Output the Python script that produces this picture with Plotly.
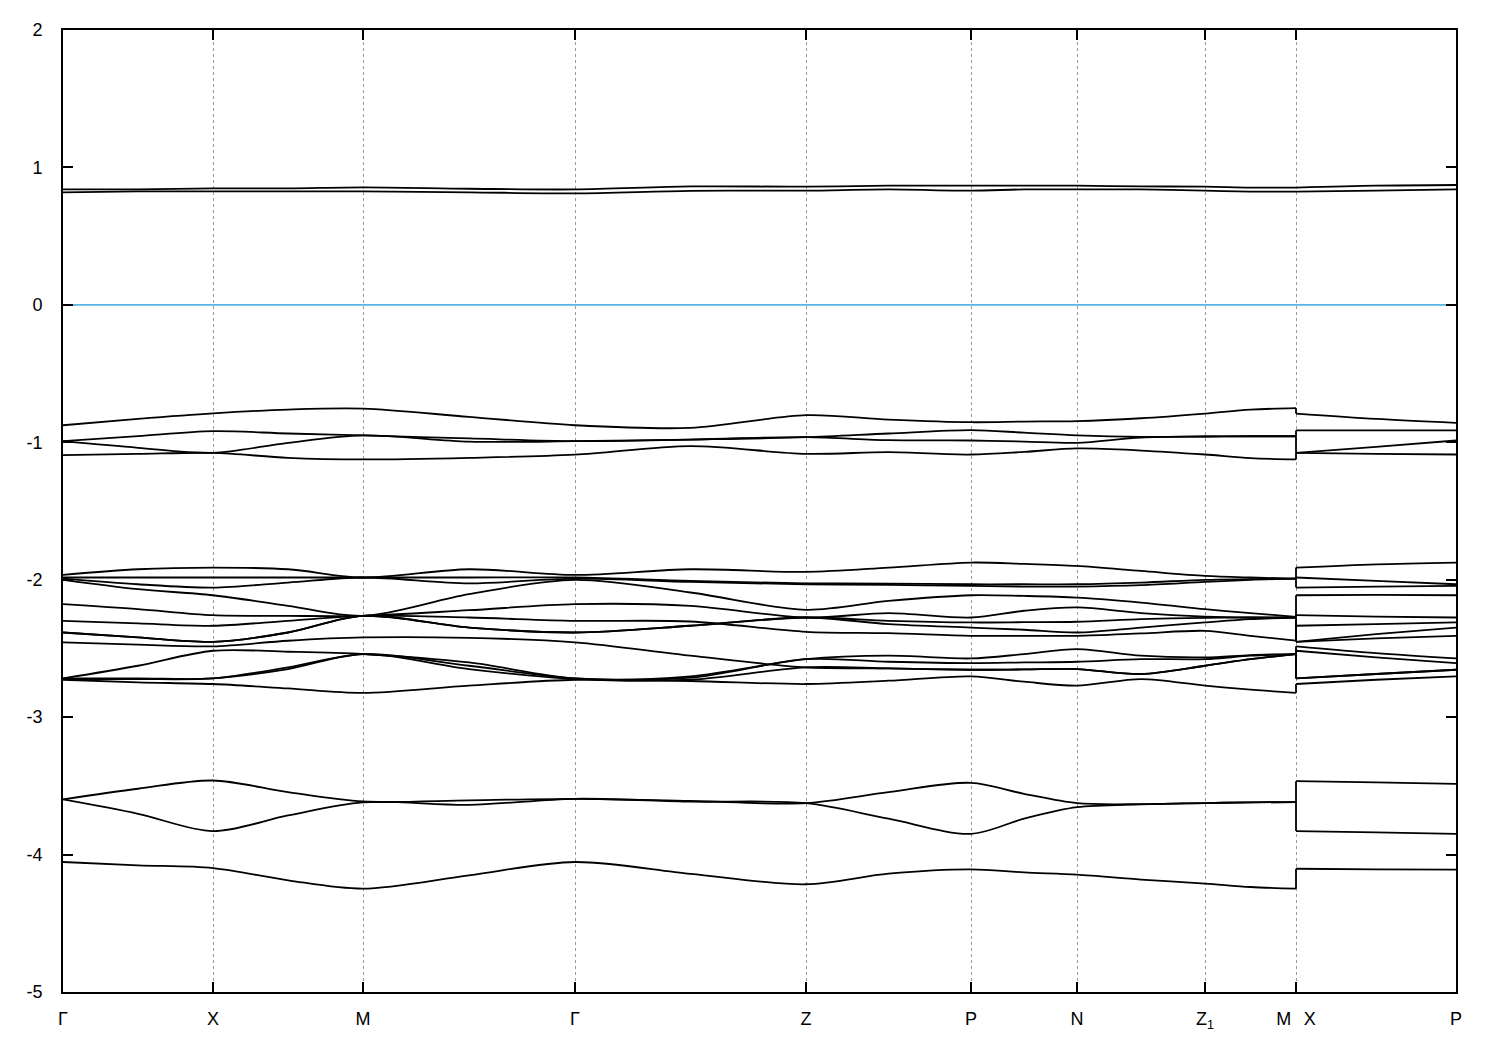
import plotly.graph_objects as go

# High-symmetry path (k distance, arbitrary units) and labels
hs_k = [0.0, 0.150, 0.300, 0.512, 0.743, 0.908, 1.014, 1.142, 1.233, 1.233, 1.393]
hs_labels = ["Γ", "X", "M", "Γ", "Z", "P", "N", "Z<sub>1</sub>", "M\u2002\u2009X", "P"]

# Energies (eV) at nodes: each segment start, midpoint, ... ; nodes 0-16 = Γ..M, 17-19 = X..P
T1 = [0.840, 0.840, 0.848, 0.848, 0.855, 0.845, 0.840, 0.862, 0.860, 0.867, 0.867, 0.867, 0.867, 0.862, 0.860, 0.853, 0.853, 0.853, 0.867, 0.872]
T2 = [0.819, 0.826, 0.826, 0.826, 0.826, 0.819, 0.811, 0.830, 0.831, 0.840, 0.831, 0.840, 0.840, 0.840, 0.831, 0.824, 0.824, 0.824, 0.831, 0.840]

A = [-0.876, -0.830, -0.790, -0.762, -0.755, -0.815, -0.876, -0.895, -0.803, -0.835, -0.854, -0.849, -0.846, -0.825, -0.791, -0.762, -0.752, -0.791, -0.830, -0.859]
B = [-0.992, -0.955, -0.919, -0.936, -0.950, -0.972, -0.992, -0.980, -0.963, -0.936, -0.912, -0.930, -0.949, -0.960, -0.958, -0.956, -0.956, -0.914, -0.914, -0.914]
C = [-0.992, -1.040, -1.077, -1.004, -0.950, -0.995, -0.992, -0.980, -0.963, -0.985, -0.987, -0.995, -1.004, -0.965, -0.958, -0.956, -0.956, -1.077, -1.033, -0.987]
D = [-1.094, -1.085, -1.077, -1.113, -1.125, -1.113, -1.090, -1.028, -1.084, -1.072, -1.089, -1.070, -1.045, -1.060, -1.089, -1.115, -1.125, -1.077, -1.085, -1.089]

da = [-1.965, -1.924, -1.912, -1.924, -1.984, -1.924, -1.965, -1.924, -1.943, -1.912, -1.875, -1.885, -1.900, -1.936, -1.972, -1.984, -1.992, -1.912, -1.888, -1.875]
db = [-1.984, -1.984, -1.984, -1.984, -1.984, -1.984, -1.984, -2.009, -2.026, -2.028, -2.033, -2.033, -2.033, -2.021, -2.001, -1.996, -1.992, -1.984, -2.009, -2.033]
dc = [-1.992, -2.033, -2.057, -2.021, -1.984, -2.026, -1.992, -2.016, -2.033, -2.038, -2.045, -2.050, -2.050, -2.040, -2.016, -2.001, -1.992, -2.057, -2.050, -2.045]
dd = [-2.001, -2.069, -2.113, -2.190, -2.263, -2.105, -2.001, -2.093, -2.219, -2.154, -2.113, -2.118, -2.130, -2.166, -2.214, -2.243, -2.270, -2.113, -2.110, -2.113]
de = [-2.178, -2.214, -2.258, -2.263, -2.263, -2.222, -2.178, -2.190, -2.275, -2.243, -2.275, -2.226, -2.202, -2.243, -2.268, -2.275, -2.275, -2.258, -2.268, -2.275]
df = [-2.299, -2.318, -2.335, -2.299, -2.263, -2.275, -2.299, -2.304, -2.379, -2.389, -2.408, -2.408, -2.408, -2.391, -2.372, -2.408, -2.444, -2.335, -2.323, -2.311]
dg = [-2.384, -2.420, -2.452, -2.384, -2.263, -2.348, -2.384, -2.335, -2.275, -2.299, -2.311, -2.309, -2.306, -2.287, -2.277, -2.275, -2.275, -2.452, -2.396, -2.348]
dn = [-2.384, -2.420, -2.452, -2.384, -2.263, -2.348, -2.384, -2.335, -2.275, -2.323, -2.348, -2.364, -2.384, -2.348, -2.311, -2.287, -2.275, -2.452, -2.427, -2.408]
dh = [-2.456, -2.473, -2.485, -2.444, -2.420, -2.423, -2.456, -2.553, -2.638, -2.645, -2.655, -2.653, -2.650, -2.686, -2.626, -2.578, -2.541, -2.485, -2.534, -2.573]
di = [-2.718, -2.626, -2.517, -2.524, -2.541, -2.602, -2.718, -2.703, -2.578, -2.553, -2.573, -2.541, -2.505, -2.553, -2.565, -2.548, -2.541, -2.517, -2.565, -2.607]
dj = [-2.718, -2.718, -2.718, -2.638, -2.541, -2.626, -2.718, -2.713, -2.578, -2.597, -2.607, -2.602, -2.597, -2.578, -2.578, -2.553, -2.541, -2.718, -2.686, -2.655]
dk = [-2.723, -2.723, -2.718, -2.650, -2.541, -2.650, -2.723, -2.728, -2.638, -2.645, -2.655, -2.653, -2.650, -2.686, -2.626, -2.578, -2.541, -2.718, -2.686, -2.655]
dl = [-2.728, -2.747, -2.759, -2.791, -2.824, -2.771, -2.728, -2.737, -2.759, -2.735, -2.703, -2.742, -2.771, -2.723, -2.771, -2.800, -2.824, -2.759, -2.728, -2.703]

S1 = [-3.599, -3.521, -3.461, -3.546, -3.614, -3.606, -3.594, -3.610, -3.626, -3.546, -3.478, -3.558, -3.626, -3.633, -3.625, -3.620, -3.618, -3.466, -3.475, -3.485]
S2 = [-3.599, -3.703, -3.829, -3.715, -3.620, -3.638, -3.594, -3.615, -3.626, -3.739, -3.849, -3.739, -3.655, -3.635, -3.625, -3.620, -3.618, -3.829, -3.838, -3.849]
L = [-4.054, -4.078, -4.098, -4.187, -4.248, -4.151, -4.054, -4.140, -4.216, -4.139, -4.107, -4.130, -4.146, -4.182, -4.211, -4.236, -4.248, -4.103, -4.107, -4.110]

bands = [T1, T2, A, B, C, D, da, db, dc, dd, de, df, dg, dn, dh, di, dj, dk, dl, S1, S2, L]

y_ticks = [-5, -4, -3, -2, -1, 0, 1, 2]
y_ticklabels = ["-5", "-4", "-3", "-2", "-1", "0", "1", "2"]

# k grid: start, midpoint, end of each segment
k_nodes = []
for i in range(8):
    k_nodes.append(hs_k[i])
    k_nodes.append((hs_k[i] + hs_k[i + 1]) / 2)
k_nodes.append(hs_k[8])
k_nodes += [hs_k[9], (hs_k[9] + hs_k[10]) / 2, hs_k[10]]

fig = go.Figure()
line = dict(color="black", width=1.8)
for b in bands:
    fig.add_trace(go.Scatter(x=k_nodes[:17], y=b[:17], mode="lines",
                             line=dict(line, shape="spline", smoothing=0.9),
                             showlegend=False, hoverinfo="skip"))
    fig.add_trace(go.Scatter(x=k_nodes[16:18], y=b[16:18], mode="lines",
                             line=line, showlegend=False, hoverinfo="skip"))
    fig.add_trace(go.Scatter(x=k_nodes[17:], y=b[17:], mode="lines",
                             line=dict(line, shape="spline", smoothing=0.9),
                             showlegend=False, hoverinfo="skip"))

# Fermi level
fig.add_trace(go.Scatter(x=[hs_k[0], hs_k[-1]], y=[0, 0], mode="lines",
                         line=dict(color="#56b4e9", width=1.6),
                         showlegend=False, hoverinfo="skip"))

font = dict(family="Liberation Sans, Arial, sans-serif", size=18, color="black")
fig.update_layout(
    width=1500, height=1050,
    margin=dict(l=55, r=52, t=20, b=66),
    paper_bgcolor="white", plot_bgcolor="white",
    font=font,
    xaxis=dict(range=[hs_k[0], hs_k[-1]], tickmode="array",
               tickvals=[hs_k[i] for i in [0, 1, 2, 3, 4, 5, 6, 7, 8, 10]],
               ticktext=hs_labels, ticks="inside", ticklen=10, tickcolor="black",
               tickwidth=1.5,
               showline=True, linecolor="black", linewidth=1.7, mirror="ticks",
               showgrid=True, gridcolor="#9a9a9a", griddash="dot", gridwidth=1,
               zeroline=False, ticklabelstandoff=10),
    yaxis=dict(range=[-5, 2], tickmode="array", tickvals=y_ticks, ticktext=y_ticklabels,
               ticks="inside", ticklen=10, tickcolor="black", tickwidth=1.5,
               showline=True, linecolor="black", linewidth=1.7, mirror="ticks",
               showgrid=False, zeroline=False, ticklabelstandoff=15),
)

fig.write_html("out.html")
